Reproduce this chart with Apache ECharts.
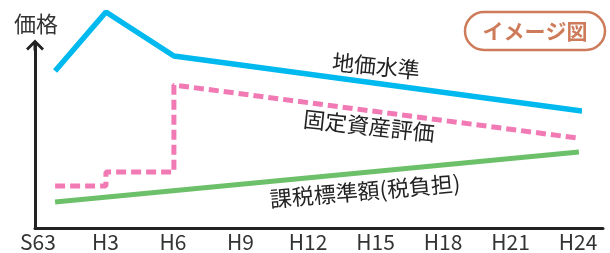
<!DOCTYPE html>
<html>
<head>
<meta charset="utf-8">
<script src="https://cdn.jsdelivr.net/npm/echarts@6/dist/echarts.min.js"></script>
<style>html,body{margin:0;padding:0;background:#fff}#c{width:610px;height:253px}</style>
</head>
<body>
<div id="c"></div>
<script>
// x: years since S63 ; y: relative price level (image units)
var tickLabels = ['S63','H3','H6','H9','H12','H15','H18','H21','H24'];
var landPrice = [[0.76,157],[3.02,216],[6.04,172],[24.18,117]];
var fixedAssetEval = [[0.76,42],[3.02,42],[3.02,56],[6.04,56],[6.04,143],[23.96,90]];
var taxBase = [[0.76,26],[24.04,76]];
var seriesNames = ['地価水準','固定資産評価','課税標準額(税負担)'];

var FONT = '"Noto Sans CJK JP", "Noto Sans", sans-serif';
var chart = echarts.init(document.getElementById('c'), null, {renderer:'canvas'});
chart.setOption({
  animation:false,
  backgroundColor:'#fff',
  textStyle:{fontFamily:FONT},
  grid:[
    {left:38, right:32, top:0, bottom:25},
    {left:35, right:7, top:45, bottom:25}
  ],
  xAxis:[
    {gridIndex:0, type:'value', min:0, max:24, interval:3,
     axisLine:{show:false}, axisTick:{show:false}, splitLine:{show:false},
     axisLabel:{margin:4, fontSize:21, color:'#333', fontFamily:FONT,
       formatter:function(v){return tickLabels[Math.round(v/3)];}}},
    {gridIndex:1, type:'value', min:0, max:1,
     axisLine:{show:true, onZero:false, lineStyle:{color:'#222', width:3}},
     axisTick:{show:false}, axisLabel:{show:false}, splitLine:{show:false}}
  ],
  yAxis:[
    {gridIndex:0, type:'value', min:0, max:228, show:false},
    {gridIndex:1, type:'value', min:0, max:1,
     axisLine:{show:true, onZero:false, lineStyle:{color:'#222', width:3},
       symbol:['none','path://M9,0 L18,9 L16,11 L10.5,5.5 L10.5,11 L7.5,11 L7.5,5.5 L2,11 L0,9 Z'],
       symbolSize:[18,11]},
     axisTick:{show:false}, axisLabel:{show:false}, splitLine:{show:false}}
  ],
  series:[
    {name:seriesNames[0], type:'line', xAxisIndex:0, yAxisIndex:0, data:landPrice,
     symbol:'none', lineStyle:{color:'#00b9ef', width:5.5}},
    {name:seriesNames[1], type:'line', xAxisIndex:0, yAxisIndex:0, data:fixedAssetEval,
     symbol:'none', lineStyle:{color:'#f17ab5', width:5, type:[10,5]}},
    {name:seriesNames[2], type:'line', xAxisIndex:0, yAxisIndex:0, data:taxBase,
     symbol:'none', lineStyle:{color:'#6cc06a', width:5}}
  ],
  graphic:[
    {type:'text', x:36, y:24, style:{text:'価格', font:'22px '+FONT, fill:'#333', align:'center', verticalAlign:'middle'}},
    {type:'rect', shape:{x:465, y:12, width:140, height:38, r:19},
     style:{fill:'#fff', stroke:'#cd7b5a', lineWidth:2.5}},
    {type:'text', x:535, y:31, style:{text:'イメージ図', font:'bold 21px '+FONT, fill:'#cd7b5a', align:'center', verticalAlign:'middle'}},
    {type:'text', x:376, y:66, rotation:-0.1, style:{text:seriesNames[0], font:'22px '+FONT, fill:'#222', align:'center', verticalAlign:'middle'}},
    {type:'text', x:369, y:126, rotation:-0.11, style:{text:seriesNames[1], font:'22px '+FONT, fill:'#222', align:'center', verticalAlign:'middle'}},
    {type:'text', x:365, y:191, rotation:0.085, style:{text:seriesNames[2], font:'22px '+FONT, fill:'#222', align:'center', verticalAlign:'middle'}}
  ]
});
</script>
</body>
</html>
